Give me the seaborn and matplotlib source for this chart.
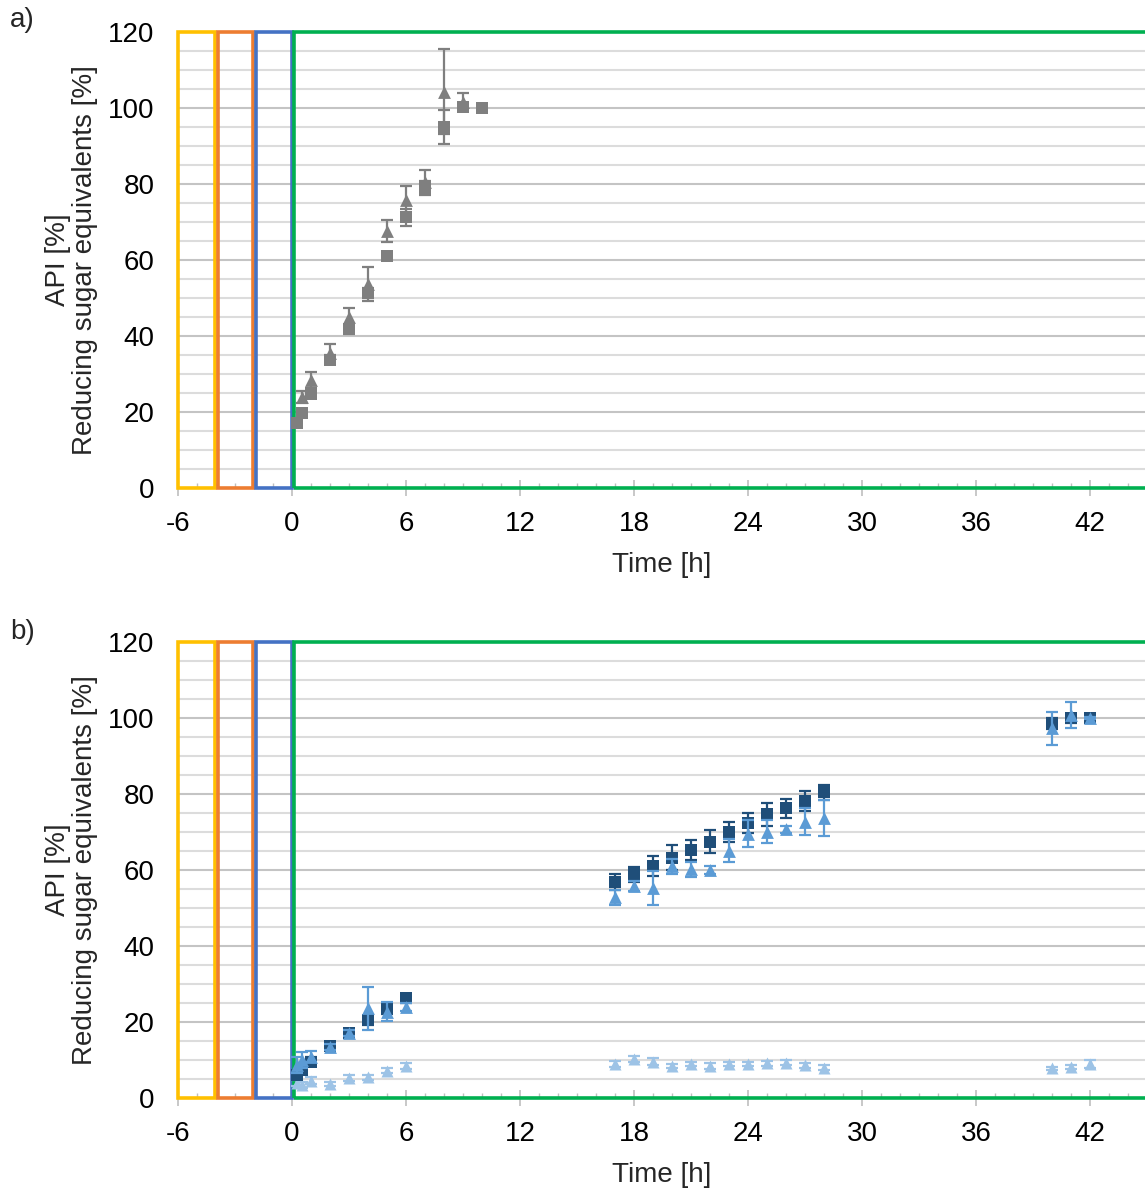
import numpy as np
import pandas as pd
import matplotlib
matplotlib.use("Agg")
import matplotlib.pyplot as plt
from matplotlib.patches import Rectangle
from matplotlib.ticker import MultipleLocator
import seaborn as sns

# ---------------- data ----------------
# Panel a (grey)
a_sq_time = [0.25, 0.5, 1, 2, 3, 4, 5, 6, 7, 8, 9, 10]
a_sq_val = [17.0, 19.8, 24.8, 33.8, 41.8, 51.3, 61.0, 71.2, 79.2, 95.0, 100.3, 100.0]
a_sq_err = [0.8, 1.0, 1.2, 1.2, 1.2, 1.3, 1.0, 2.2, 1.5, 4.5, 0.8, 0.3]

a_tr_time = [0.5, 1, 2, 3, 4, 5, 6, 7, 8, 9]
a_tr_val = [24.0, 28.4, 35.4, 45.0, 53.6, 67.7, 75.8, 80.5, 104.3, 101.7]
a_tr_err = [1.5, 2.2, 2.5, 2.5, 4.5, 2.9, 3.6, 3.3, 11.1, 2.2]

# Panel b (blues)
b_time = [0.25, 0.5, 1, 2, 3, 4, 5, 6, 17, 18, 19, 20, 21, 22, 23, 24, 25, 26, 27, 28, 40, 41, 42]
b_dark_val = [6.0, 7.5, 9.6, 13.6, 17.0, 20.5, 23.3, 26.2, 56.8, 58.9, 61.0, 63.2, 65.3, 67.5,
              70.1, 72.3, 74.7, 76.2, 78.2, 80.4, 98.6, 99.9, 100.0]
b_dark_err = [1.0, 1.0, 1.2, 1.0, 1.0, 1.2, 1.2, 1.2, 2.1, 2.0, 2.6, 3.3, 2.6, 2.9,
              2.6, 2.6, 3.0, 2.6, 2.6, 2.1, 1.5, 1.2, 0.3]
b_mid_val = [8.7, 10.0, 10.9, 13.5, 17.0, 23.6, 22.7, 23.9, 52.8, 55.8, 55.2, 61.0, 60.2, 60.0,
             65.1, 69.6, 70.1, 70.7, 72.7, 73.6, 97.3, 100.8, 100.0]
b_mid_err = [2.0, 2.0, 1.5, 0.8, 0.8, 5.7, 2.5, 1.0, 2.0, 1.3, 4.5, 2.0, 2.0, 1.0,
             3.0, 3.5, 3.0, 1.0, 3.5, 4.7, 4.3, 3.5, 0.3]
b_light_val = [3.9, 3.5, 4.6, 3.7, 5.2, 5.4, 7.2, 8.4, 8.9, 10.3, 9.6, 8.4, 8.9, 8.5,
               8.9, 8.9, 9.1, 9.3, 8.6, 8.0, 7.8, 8.2, 8.9]
b_light_err = [0.8, 0.8, 0.8, 0.6, 0.8, 0.6, 0.6, 0.8, 0.8, 0.8, 0.8, 0.6, 0.6, 0.8,
               0.6, 0.6, 0.6, 0.6, 0.6, 0.6, 0.4, 0.6, 1.0]

# process phases (x start, x end)
phase_starts = [-6, -4, -2, 0]
phase_ends = [-4, -2, 0, 60]
phase_colors = ["#FFC000", "#ED7D31", "#4472C4", "#00B050"]

x_ticks = [-6, 0, 6, 12, 18, 24, 30, 36, 42]
y_ticks = [0, 20, 40, 60, 80, 100, 120]

# ---------------- style ----------------
sns.set_theme(style="white")
plt.rcParams["font.family"] = ["Liberation Sans", "DejaVu Sans"]
plt.rcParams["axes.unicode_minus"] = False

W, H = 1145, 1189
fig = plt.figure(figsize=(W / 100, H / 100), dpi=100)

def px_axes(top_px, bottom_px):
    left = 178 / W
    width = (W - 178) / W
    bottom = 1 - bottom_px / H
    height = (bottom_px - top_px) / H
    return fig.add_axes([left, bottom, width, height])

ax_a = px_axes(32, 488)
ax_b = px_axes(642, 1098)

FS = 20
X_MAX = -6 + (W - 178) / 19.0

def style_axis(ax):
    ax.set_xlim(-6, X_MAX)
    ax.set_ylim(0, 120)
    # horizontal gridlines
    for yv in np.arange(5, 120, 5):
        c = "#C4C4C4" if yv % 20 == 0 else "#DCDCDC"
        ax.axhline(yv, color=c, lw=1.5, zorder=0)
    ax.set_yticks(y_ticks)
    ax.set_xticks(x_ticks)
    ax.xaxis.set_minor_locator(MultipleLocator(1))
    ax.tick_params(axis="y", length=0, pad=17, labelsize=FS, colors="black")
    ax.tick_params(axis="x", which="major", direction="inout", length=11, width=1.2,
                   color="#BFBFBF", pad=11, labelsize=FS, labelcolor="black", bottom=True)
    ax.tick_params(axis="x", which="minor", direction="in", length=3.5, width=1.0,
                   color="#BFBFBF", bottom=True)
    for s in ["top", "right", "left"]:
        ax.spines[s].set_visible(False)
    ax.spines["bottom"].set_color("#BFBFBF")
    insets = [(0.0, -0.05), (0.1, -0.05), (0.1, 0.0), (0.1, 0.0)]
    for (x0, x1, c, (i0, i1)) in zip(phase_starts, phase_ends, phase_colors, insets):
        ax.add_patch(Rectangle((x0 + i0, 0), (x1 + i1) - (x0 + i0), 120, fill=False,
                               ec=c, lw=2.6, clip_on=False, zorder=3))

style_axis(ax_a)
style_axis(ax_b)

def series(ax, t, v, e, color, marker, size, z):
    df = pd.DataFrame({"t": t, "v": v})
    ax.errorbar(t, v, yerr=e, fmt="none", ecolor=color, elinewidth=1.6,
                capsize=4, capthick=1.6, zorder=z)
    sns.scatterplot(data=df, x="t", y="v", ax=ax, color=color, marker=marker,
                    s=size, edgecolor=color, linewidth=0, zorder=z + 0.5, legend=False)

grey = "#7F7F7F"
series(ax_a, a_sq_time, a_sq_val, a_sq_err, grey, "s", 75, 4)
series(ax_a, a_tr_time, a_tr_val, a_tr_err, grey, "^", 85, 5)

series(ax_b, b_time, b_light_val, b_light_err, "#9DC3E6", "^", 75, 4)
series(ax_b, b_time, b_dark_val, b_dark_err, "#1F4E79", "s", 75, 5)
series(ax_b, b_time, b_mid_val, b_mid_err, "#5B9BD5", "^", 85, 6)

for ax in (ax_a, ax_b):
    ax.set_xlabel("Time [h]", fontsize=FS, labelpad=11)
    ax.set_ylabel("API [%]\nReducing sugar equivalents [%]", fontsize=FS, linespacing=1.05)
    ax.yaxis.set_label_coords(-0.083, 0.5)

fig.text(10 / W, 1 - 20 / H, "a)", fontsize=FS, va="center", ha="left")
fig.text(10 / W, 1 - 632 / H, "b)", fontsize=FS, va="center", ha="left")

fig.savefig("out.png", dpi=100)
